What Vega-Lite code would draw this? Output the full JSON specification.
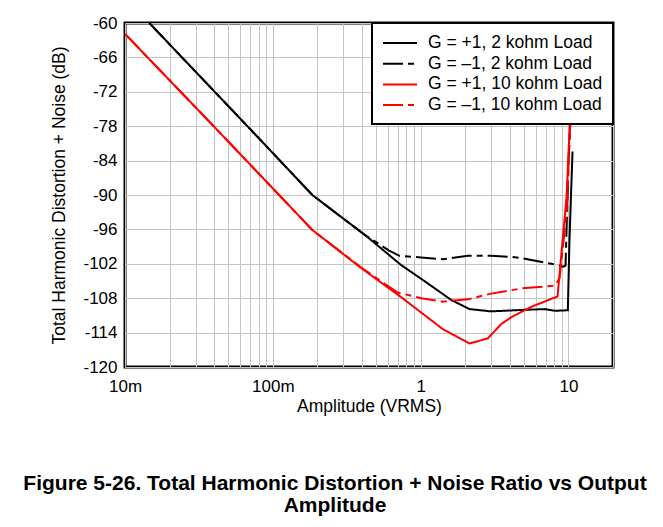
{
  "$schema": "https://vega.github.io/schema/vega-lite/v6.json",
  "autosize": "none",
  "width": 488,
  "height": 344,
  "padding": {"left": 125, "top": 23, "right": 50, "bottom": 160},
  "background": "white",
  "title": {
    "text": ["Figure 5-26. Total Harmonic Distortion + Noise Ratio vs Output", "Amplitude"],
    "orient": "bottom",
    "anchor": "middle",
    "dx": -34,
    "offset": 58,
    "font": "Liberation Sans",
    "fontSize": 21,
    "fontWeight": "bold",
    "lineHeight": 22,
    "color": "black"
  },
  "config": {
    "view": {"stroke": "black", "strokeWidth": 3},
    "axis": {
      "labelFont": "Liberation Sans",
      "labelFontSize": 17,
      "labelColor": "black",
      "titleFont": "Liberation Sans",
      "titleFontSize": 17.5,
      "titleFontWeight": "normal",
      "titleColor": "black",
      "ticks": false,
      "domain": false,
      "gridColor": "#c4c4c4",
      "gridWidth": 1,
      "gridOpacity": 1
    }
  },
  "data": {
    "values": [
      {"s": "G = +1, 2 kohm Load", "x": 0.0146, "y": -60},
      {"s": "G = +1, 2 kohm Load", "x": 0.0825, "y": -80.4},
      {"s": "G = +1, 2 kohm Load", "x": 0.185, "y": -90.0},
      {"s": "G = +1, 2 kohm Load", "x": 0.426, "y": -97.1},
      {"s": "G = +1, 2 kohm Load", "x": 0.736, "y": -102.2},
      {"s": "G = +1, 2 kohm Load", "x": 1.006, "y": -104.6},
      {"s": "G = +1, 2 kohm Load", "x": 1.608, "y": -108.3},
      {"s": "G = +1, 2 kohm Load", "x": 2.14, "y": -109.9},
      {"s": "G = +1, 2 kohm Load", "x": 3.0, "y": -110.3},
      {"s": "G = +1, 2 kohm Load", "x": 4.8, "y": -110.05},
      {"s": "G = +1, 2 kohm Load", "x": 6.9, "y": -109.9},
      {"s": "G = +1, 2 kohm Load", "x": 8.1, "y": -110.2},
      {"s": "G = +1, 2 kohm Load", "x": 9.9, "y": -110.1},
      {"s": "G = +1, 2 kohm Load", "x": 10.15, "y": -98},
      {"s": "G = +1, 2 kohm Load", "x": 10.4, "y": -90},
      {"s": "G = +1, 2 kohm Load", "x": 10.65, "y": -82.4},

      {"s": "G = –1, 2 kohm Load", "x": 0.0146, "y": -60},
      {"s": "G = –1, 2 kohm Load", "x": 0.0825, "y": -80.4},
      {"s": "G = –1, 2 kohm Load", "x": 0.185, "y": -90.0},
      {"s": "G = –1, 2 kohm Load", "x": 0.426, "y": -97.1},
      {"s": "G = –1, 2 kohm Load", "x": 0.512, "y": -98.4},
      {"s": "G = –1, 2 kohm Load", "x": 0.613, "y": -99.7},
      {"s": "G = –1, 2 kohm Load", "x": 0.717, "y": -100.6},
      {"s": "G = –1, 2 kohm Load", "x": 1.006, "y": -100.9},
      {"s": "G = –1, 2 kohm Load", "x": 1.413, "y": -101.2},
      {"s": "G = –1, 2 kohm Load", "x": 2.09, "y": -100.6},
      {"s": "G = –1, 2 kohm Load", "x": 3.0, "y": -100.6},
      {"s": "G = –1, 2 kohm Load", "x": 4.11, "y": -100.8},
      {"s": "G = –1, 2 kohm Load", "x": 4.8, "y": -101.0},
      {"s": "G = –1, 2 kohm Load", "x": 7.67, "y": -102.0},
      {"s": "G = –1, 2 kohm Load", "x": 9.22, "y": -102.5},
      {"s": "G = –1, 2 kohm Load", "x": 9.55, "y": -102.3},
      {"s": "G = –1, 2 kohm Load", "x": 9.75, "y": -94},
      {"s": "G = –1, 2 kohm Load", "x": 10.0, "y": -84},
      {"s": "G = –1, 2 kohm Load", "x": 10.35, "y": -76},
      {"s": "G = –1, 2 kohm Load", "x": 10.6, "y": -60},

      {"s": "G = +1, 10 kohm Load", "x": 0.01, "y": -61.9},
      {"s": "G = +1, 10 kohm Load", "x": 0.0398, "y": -78.0},
      {"s": "G = +1, 10 kohm Load", "x": 0.185, "y": -96.1},
      {"s": "G = +1, 10 kohm Load", "x": 0.394, "y": -102.7},
      {"s": "G = +1, 10 kohm Load", "x": 0.736, "y": -107.8},
      {"s": "G = +1, 10 kohm Load", "x": 1.413, "y": -113.4},
      {"s": "G = +1, 10 kohm Load", "x": 2.14, "y": -115.9},
      {"s": "G = +1, 10 kohm Load", "x": 2.85, "y": -115.0},
      {"s": "G = +1, 10 kohm Load", "x": 3.51, "y": -112.5},
      {"s": "G = +1, 10 kohm Load", "x": 4.11, "y": -111.3},
      {"s": "G = +1, 10 kohm Load", "x": 4.8, "y": -110.4},
      {"s": "G = +1, 10 kohm Load", "x": 5.61, "y": -109.5},
      {"s": "G = +1, 10 kohm Load", "x": 8.43, "y": -107.7},
      {"s": "G = +1, 10 kohm Load", "x": 9.7, "y": -90.3},
      {"s": "G = +1, 10 kohm Load", "x": 10.2, "y": -78},
      {"s": "G = +1, 10 kohm Load", "x": 10.45, "y": -60},

      {"s": "G = –1, 10 kohm Load", "x": 0.01, "y": -61.9},
      {"s": "G = –1, 10 kohm Load", "x": 0.0398, "y": -78.0},
      {"s": "G = –1, 10 kohm Load", "x": 0.185, "y": -96.1},
      {"s": "G = –1, 10 kohm Load", "x": 0.394, "y": -102.6},
      {"s": "G = –1, 10 kohm Load", "x": 0.55, "y": -105.2},
      {"s": "G = –1, 10 kohm Load", "x": 0.70, "y": -107.0},
      {"s": "G = –1, 10 kohm Load", "x": 1.006, "y": -108.0},
      {"s": "G = –1, 10 kohm Load", "x": 1.413, "y": -108.6},
      {"s": "G = –1, 10 kohm Load", "x": 2.09, "y": -108.2},
      {"s": "G = –1, 10 kohm Load", "x": 3.0, "y": -107.2},
      {"s": "G = –1, 10 kohm Load", "x": 4.11, "y": -106.6},
      {"s": "G = –1, 10 kohm Load", "x": 4.8, "y": -106.3},
      {"s": "G = –1, 10 kohm Load", "x": 8.1, "y": -105.8},
      {"s": "G = –1, 10 kohm Load", "x": 8.7, "y": -104.5},
      {"s": "G = –1, 10 kohm Load", "x": 9.75, "y": -92.5},
      {"s": "G = –1, 10 kohm Load", "x": 10.25, "y": -78},
      {"s": "G = –1, 10 kohm Load", "x": 10.5, "y": -60}
    ]
  },
  "mark": {"type": "line", "strokeWidth": 2, "clip": true},
  "encoding": {
    "x": {
      "field": "x",
      "type": "quantitative",
      "scale": {"type": "log", "domain": [0.01, 20], "nice": false},
      "axis": {
        "values": [0.01, 0.02, 0.03, 0.04, 0.05, 0.06, 0.07, 0.08, 0.09, 0.1, 0.2, 0.3, 0.4, 0.5, 0.6, 0.7, 0.8, 0.9, 1, 2, 3, 4, 5, 6, 7, 8, 9, 10, 20],
        "labelExpr": "datum.value == 0.01 ? '10m' : datum.value == 0.1 ? '100m' : datum.value == 1 ? '1' : datum.value == 10 ? '10' : ''",
        "labelOverlap": false,
        "labelFlush": false,
        "labelPadding": 11,
        "title": "Amplitude (VRMS)",
        "titlePadding": 3
      }
    },
    "y": {
      "field": "y",
      "type": "quantitative",
      "scale": {"domain": [-120, -60], "nice": false, "zero": false},
      "axis": {
        "values": [-120, -114, -108, -102, -96, -90, -84, -78, -72, -66, -60],
        "labelExpr": "'' + datum.value",
        "labelPadding": 8,
        "title": "Total Harmonic Distortion + Noise (dB)",
        "titlePadding": 14
      }
    },
    "color": {
      "field": "s",
      "type": "nominal",
      "scale": {
        "domain": ["G = +1, 2 kohm Load", "G = –1, 2 kohm Load", "G = +1, 10 kohm Load", "G = –1, 10 kohm Load"],
        "range": ["black", "black", "#ff0000", "#ff0000"]
      },
      "legend": {
        "title": null,
        "orient": "top-right",
        "offset": 0,
        "fillColor": "white",
        "strokeColor": "black",
        "padding": 10,
        "labelFont": "Liberation Sans",
        "labelFontSize": 17.5,
        "labelColor": "black",
        "labelLimit": 0,
        "labelOffset": 26,
        "symbolType": "M-1,0H2.78",
        "symbolSize": 324,
        "symbolStrokeWidth": 2,
        "rowPadding": 1.7,
        "encode": {"legend": {"update": {"strokeWidth": {"value": 2}}}}
      }
    },
    "strokeDash": {
      "field": "s",
      "type": "nominal",
      "scale": {
        "domain": ["G = +1, 2 kohm Load", "G = –1, 2 kohm Load", "G = +1, 10 kohm Load", "G = –1, 10 kohm Load"],
        "range": [[1, 0], [20, 5, 6, 5], [1, 0], [20, 5, 6, 5]]
      },
      "legend": {
        "title": null,
        "orient": "top-right",
        "offset": 0,
        "fillColor": "white",
        "strokeColor": "black",
        "padding": 10,
        "labelFont": "Liberation Sans",
        "labelFontSize": 17.5,
        "labelColor": "black",
        "labelLimit": 0,
        "labelOffset": 26,
        "symbolType": "M-1,0H2.78",
        "symbolSize": 324,
        "symbolStrokeWidth": 2,
        "rowPadding": 1.7,
        "encode": {"legend": {"update": {"strokeWidth": {"value": 2}}}}
      }
    }
  }
}
